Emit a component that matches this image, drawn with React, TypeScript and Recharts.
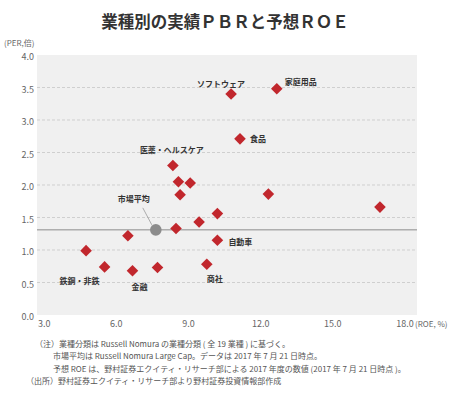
import React from 'react';
import { ScatterChart, Scatter, XAxis, YAxis, CartesianGrid, ReferenceLine } from 'recharts';

// 業種ごとの予想ROE(%)と実績PBR(倍)
const roe = [8.35, 8.58, 9.07, 8.65, 8.48, 9.44, 10.2, 10.2, 6.48, 4.74, 5.51, 6.67, 7.71, 9.76, 10.77, 12.67, 11.14, 12.32, 16.96];
const pbr = [2.3, 2.05, 2.03, 1.85, 1.33, 1.43, 1.56, 1.15, 1.22, 0.99, 0.74, 0.68, 0.73, 0.78, 3.4, 3.48, 2.71, 1.86, 1.66];
const industry = ['医薬・ヘルスケア', '', '', '', '', '', '', '自動車', '', '', '鉄鋼・非鉄', '金融', '', '商社', 'ソフトウェア', '家庭用品', '食品', '', ''];

const marketRoe = 7.64;
const marketPbr = 1.31;
const marketName = '市場平均';

const xTicks = [3, 6, 9, 12, 15, 18];
const yTicks = [0, 0.5, 1, 1.5, 2, 2.5, 3, 3.5, 4];
const gridValues = [0.5, 1, 1.5, 2, 2.5, 3, 3.5];

const notes = [
  '（注）業種分類は Russell Nomura の業種分類 ( 全 19 業種 ) に基づく。',
  '市場平均は Russell Nomura Large Cap。データは 2017 年 7 月 21 日時点。',
  '予想 ROE は、野村証券エクイティ・リサーチ部による 2017 年度の数値 (2017 年 7 月 21 日時点 )。',
  '（出所）野村証券エクイティ・リサーチ部より野村証券投資情報部作成',
];

const data = roe.map((x, i) => ({ x, y: pbr[i], name: industry[i] }));
const market = [{ x: marketRoe, y: marketPbr, name: marketName }];

const FONT = '"Noto Sans CJK JP", "Noto Sans", sans-serif';
const RED = '#c1272d';

// ラベル位置 (点からのずれ)
const labelPos: Record<string, [number, number, string]> = {
  'ソフトウェア': [-10, -11, 'middle'],
  '家庭用品': [8, -7, 'start'],
  '食品': [10, 0, 'start'],
  '医薬・ヘルスケア': [-1, -16, 'middle'],
  '自動車': [11, 1, 'start'],
  '商社': [8, 14, 'middle'],
  '鉄鋼・非鉄': [-25, 14, 'middle'],
  '金融': [7, 16, 'middle'],
  '市場平均': [-22, -31, 'middle'],
};

const PointLabel = ({ cx, cy, name }: any) => {
  const pos = labelPos[name];
  if (!pos) return null;
  return (
    <text
      x={cx + pos[0]}
      y={cy + pos[1]}
      textAnchor={pos[2] as any}
      dominantBaseline="central"
      fontSize={8}
      fontWeight="bold"
      fill="#333"
      fontFamily={FONT}
    >
      {name}
    </text>
  );
};

const Diamond = (props: any) => {
  const { cx, cy, payload } = props;
  const r = 5.8;
  return (
    <g>
      <path d={`M${cx},${cy - r}L${cx + r},${cy}L${cx},${cy + r}L${cx - r},${cy}Z`} fill={RED} />
      <PointLabel cx={cx} cy={cy} name={payload.name} />
    </g>
  );
};

const MarketDot = (props: any) => {
  const { cx, cy, payload } = props;
  return (
    <g>
      <line x1={cx - 13} y1={cy - 22} x2={cx - 4} y2={cy - 5} stroke="#999" strokeWidth={0.8} />
      <circle cx={cx} cy={cy} r={5.8} fill="#8c8c8c" />
      <PointLabel cx={cx} cy={cy} name={payload.name} />
    </g>
  );
};

const XTick = (props: any) => {
  const { x, y, payload, index } = props;
  return (
    <g>
      <text x={x} y={y} dy="0.71em" textAnchor="middle" fontSize={9} fill="#666" fontFamily={FONT}>
        {payload.value.toFixed(1)}
      </text>
      {index === xTicks.length - 1 && (
        <text x={x + 10} y={y} dy="0.71em" textAnchor="start" fontSize={8} fill="#666" fontFamily={FONT}>
          (ROE, %)
        </text>
      )}
    </g>
  );
};

export default function App() {
  return (
    <div style={{ position: 'absolute', left: 0, top: 0, width: 450, height: 395, background: '#fff', fontFamily: FONT }}>
      <div
        style={{
          position: 'absolute',
          top: 10,
          left: 0,
          width: 450,
          textAlign: 'center',
          fontSize: 16.5,
          fontWeight: 'bold',
          color: '#333',
          lineHeight: '22px',
        }}
      >
        業種別の実績ＰＢＲと予想ＲＯＥ
      </div>
      <div style={{ position: 'absolute', top: 38, left: 4, fontSize: 8, color: '#666', lineHeight: '10px' }}>
        (PER,倍)
      </div>
      <ScatterChart width={450} height={395} margin={{ top: 55, right: 33, bottom: 60, left: 0 }}>
        <CartesianGrid
          vertical={false}
          fill="#f0f0f0"
          stroke="#cfcfcf"
          strokeDasharray="3 2"
          horizontalValues={gridValues}
        />
        <XAxis
          type="number"
          dataKey="x"
          domain={[2.7, 18.5]}
          ticks={xTicks}
          allowDataOverflow
          axisLine={false}
          tickLine={false}
          tickSize={0}
          tickMargin={6}
          height={20}
          tick={<XTick />}
        />
        <YAxis
          type="number"
          dataKey="y"
          domain={[0, 4]}
          ticks={yTicks}
          width={37}
          axisLine={false}
          tickLine={false}
          tickSize={0}
          tickMargin={3}
          tickFormatter={(v: number) => v.toFixed(1)}
          tick={{ fontSize: 9, fill: '#666', fontFamily: FONT, dy: 2 }}
        />
        <ReferenceLine y={marketPbr} stroke="#8c8c8c" strokeWidth={1} />
        <Scatter data={data} shape={<Diamond />} isAnimationActive={false} />
        <Scatter data={market} shape={<MarketDot />} isAnimationActive={false} />
      </ScatterChart>
      {notes.map((t, i) => (
        <div
          key={i}
          style={{
            position: 'absolute',
            left: i === 0 ? 35 : i === 3 ? 26 : 53,
            top: 338 + i * 12.4,
            fontSize: 8,
            color: '#555',
            lineHeight: '12px',
            whiteSpace: 'nowrap',
          }}
        >
          {t}
        </div>
      ))}
    </div>
  );
}
